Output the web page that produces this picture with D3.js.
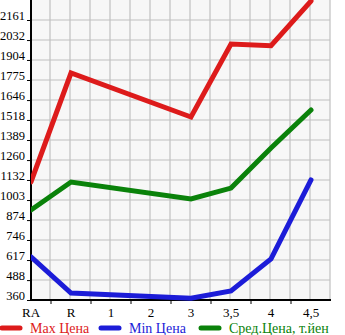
<!DOCTYPE html>
<html><head><meta charset="utf-8">
<script src="https://cdn.jsdelivr.net/npm/d3@7"></script>
<style>body{margin:0;background:#fff}svg{display:block}</style>
</head><body><svg id="c" width="345" height="335"></svg>
<script>
const categories = ["RA","R","1","2","3","3,5","4","4,5"];
const maxPrice = [1120, 1820, null, null, 1537, 2007, 1996, 2283];
const minPrice = [637, 405, null, null, 372, 418, 624, 1132];
const avgPrice = [939, 1119, null, null, 1010, 1080, 1338, 1582];
const yTicks = [360,488,617,746,874,1003,1132,1260,1389,1518,1646,1775,1904,2032,2161];
const seriesNames = ["Max Цена","Min Цена","Сред.Цена, т.йен"];
const colors = ["#dd1b1b","#1c1cd8","#0a820a"];

const svg = d3.select("#c");
const L = 31, R = 330, T = 0, B = 300;
const x = d3.scalePoint().domain(categories).range([31, 311]);
const y = d3.scaleLinear().domain([360, 360 + 15*(2161-360)/14]).range([B, T]);

svg.append("rect").attr("x",L).attr("y",T).attr("width",R-L).attr("height",B-T).attr("fill","#f7f7f7");
const g = svg.append("g");
for (let gx = 50; gx <= R; gx += 20) g.append("line").attr("x1",gx).attr("x2",gx).attr("y1",T).attr("y2",B).attr("stroke","#c0c0c0").attr("stroke-width",1.2);
yTicks.forEach(v => g.append("line").attr("x1",L).attr("x2",R).attr("y1",Math.round(y(v))).attr("y2",Math.round(y(v))).attr("stroke","#c0c0c0").attr("stroke-width",1.2));

const yAxis = d3.axisLeft(y).tickValues(yTicks).tickFormat(d3.format("d")).tickSize(4).tickSizeOuter(0);
const ya = svg.append("g").attr("transform",`translate(${L},0)`).call(yAxis);
ya.select(".domain").remove();
ya.selectAll(".tick line").attr("stroke","#000");
ya.selectAll(".tick text").attr("font-family","Liberation Serif, serif").attr("font-size",12.5).attr("fill","#000").attr("x",-6).attr("dy","-0.05em");

// x axis ticks (between labels)
const xa = svg.append("g");
for (let tx = 51; tx <= R; tx += 40) xa.append("line").attr("x1",tx).attr("x2",tx).attr("y1",B).attr("y2",B+4).attr("stroke","#000");
categories.forEach(c => xa.append("text").attr("x",x(c)).attr("y",B+17).attr("text-anchor","middle").attr("font-family","Liberation Serif, serif").attr("font-size",13).text(c));

svg.append("line").attr("x1",L).attr("x2",L).attr("y1",T).attr("y2",B+1).attr("stroke","#000").attr("stroke-width",2);
svg.append("line").attr("x1",L-1).attr("x2",R+1).attr("y1",B).attr("y2",B).attr("stroke","#000").attr("stroke-width",2);

const clip = svg.append("clipPath").attr("id","pc").append("rect").attr("x",L).attr("y",T).attr("width",R-L+5).attr("height",B-T+3);
const line = d3.line().defined(d => d.v != null).x(d => x(d.c)).y(d => y(d.v));
[maxPrice, minPrice, avgPrice].forEach((arr, i) => {
  const pts = categories.map((c, j) => ({c, v: arr[j]})).filter(d => d.v != null);
  svg.append("path").attr("clip-path","url(#pc)").attr("d", line(pts)).attr("fill","none").attr("stroke",colors[i]).attr("stroke-width",5).attr("stroke-linejoin","miter").attr("stroke-linecap","round");
});

const lg = svg.append("g");
const lx = [0, 99, 199];
seriesNames.forEach((n, i) => {
  lg.append("line").attr("x1",lx[i]+2).attr("x2",lx[i]+20).attr("y1",328).attr("y2",328).attr("stroke",colors[i]).attr("stroke-width",5).attr("stroke-linecap","round");
  lg.append("text").attr("x",lx[i]+30).attr("y",333).attr("font-family","Liberation Serif, serif").attr("font-size",14).attr("fill",colors[i]).text(n);
});
</script></body></html>
